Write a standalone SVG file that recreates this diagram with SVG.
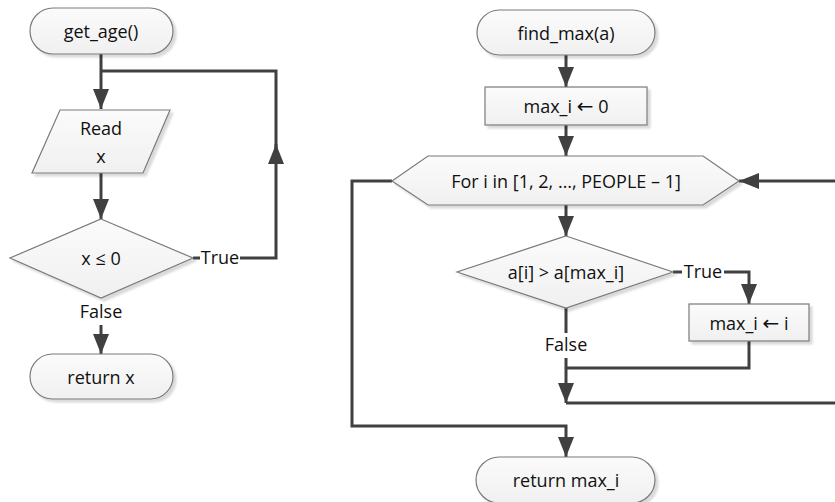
<svg xmlns="http://www.w3.org/2000/svg" width="835" height="502" viewBox="0 0 835 502">
<defs>
<linearGradient id="g" x1="0" y1="0" x2="0" y2="1"><stop offset="0" stop-color="#fbfbfb"/><stop offset="1" stop-color="#f0f0f0"/></linearGradient>
<filter id="sh" x="-10%" y="-10%" width="130%" height="140%"><feOffset dx="3" dy="3" in="SourceAlpha"/><feGaussianBlur stdDeviation="1.2"/><feComponentTransfer><feFuncA type="linear" slope="0.15"/></feComponentTransfer><feMerge><feMergeNode/><feMergeNode in="SourceGraphic"/></feMerge></filter>
<marker id="ah" viewBox="0 0 20 16" refX="20" refY="8" markerWidth="20" markerHeight="16" markerUnits="userSpaceOnUse" orient="auto"><path d="M0,0 L20,8 L0,16 z" fill="#404040"/></marker>
</defs>
<style>
.s{fill:url(#g);stroke:#7a7a7a;stroke-width:1.2;filter:url(#sh)}
.t{font-family:"Open Sans","Liberation Sans",sans-serif;font-size:18px;fill:#111;text-anchor:middle;dominant-baseline:central}
.a{font-family:"DejaVu Sans",sans-serif;font-size:20px}
.c{fill:none;stroke:#404040;stroke-width:3}
</style>
<g id="connectors">
<path class="c" d="M101,54 V109" marker-end="url(#ah)"/>
<path class="c" d="M276,150 V71 H101"/>
<path class="c" d="M101,173 V219" marker-end="url(#ah)"/>
<path class="c" d="M193,258 H200"/>
<path class="c" d="M240,258 H276 V144" marker-end="url(#ah)"/>
<path class="c" d="M101,325 V354" marker-end="url(#ah)"/>
<path class="c" d="M566,55 V87" marker-end="url(#ah)"/>
<path class="c" d="M566,125 V156" marker-end="url(#ah)"/>
<path class="c" d="M566,205 V236" marker-end="url(#ah)"/>
<path class="c" d="M673,272 H682"/>
<path class="c" d="M724,272 H749 V304" marker-end="url(#ah)"/>
<path class="c" d="M566,308 V333"/>
<path class="c" d="M566,358 V403" marker-end="url(#ah)"/>
<path class="c" d="M749,341 V368 H566"/>
<path class="c" d="M566,403 H840 V181 H739" marker-end="url(#ah)"/>
<path class="c" d="M392,181 H352 V426 H566 V457" marker-end="url(#ah)"/>
</g>
<g id="get_age">
<rect class="s" x="30" y="8" width="143" height="46" rx="23"/>
<text class="t" x="101" y="31">get_age()</text>
</g>
<g id="read_x">
<polygon class="s" points="60,110 170,110 143,173 32,173"/>
<text class="t" x="101" y="128">Read</text>
<text class="t" x="101" y="156">x</text>
</g>
<g id="cond_x">
<polygon class="s" points="101,219 193,258 101,298 10,258"/>
<text class="t" x="101" y="258">x ≤ 0</text>
<text class="t" x="220" y="257">True</text>
<text class="t" x="101" y="311">False</text>
</g>
<g id="return_x">
<rect class="s" x="30" y="354" width="143" height="45" rx="22.5"/>
<text class="t" x="101" y="377">return x</text>
</g>
<g id="find_max">
<rect class="s" x="477" y="10" width="178" height="45" rx="22.5"/>
<text class="t" x="566" y="33">find_max(a)</text>
</g>
<g id="init">
<rect class="s" x="485" y="87" width="162" height="38"/>
<text class="t" x="566" y="106">max_i <tspan class="a">←</tspan> 0</text>
</g>
<g id="for_loop">
<polygon class="s" points="392,181 428,156 703,156 739,181 703,205 428,205"/>
<text class="t" x="566" y="181">For i in [1, 2, …, PEOPLE – 1]</text>
</g>
<g id="cond_a">
<polygon class="s" points="566,236 673,272 566,308 457,272"/>
<text class="t" x="566" y="272">a[i] &gt; a[max_i]</text>
<text class="t" x="703" y="271">True</text>
<text class="t" x="566" y="344">False</text>
</g>
<g id="assign">
<rect class="s" x="689" y="304" width="120" height="37"/>
<text class="t" x="749" y="323">max_i <tspan class="a">←</tspan> i</text>
</g>
<g id="return_max">
<rect class="s" x="476" y="457" width="179" height="46" rx="23"/>
<text class="t" x="566" y="480">return max_i</text>
</g>
</svg>
